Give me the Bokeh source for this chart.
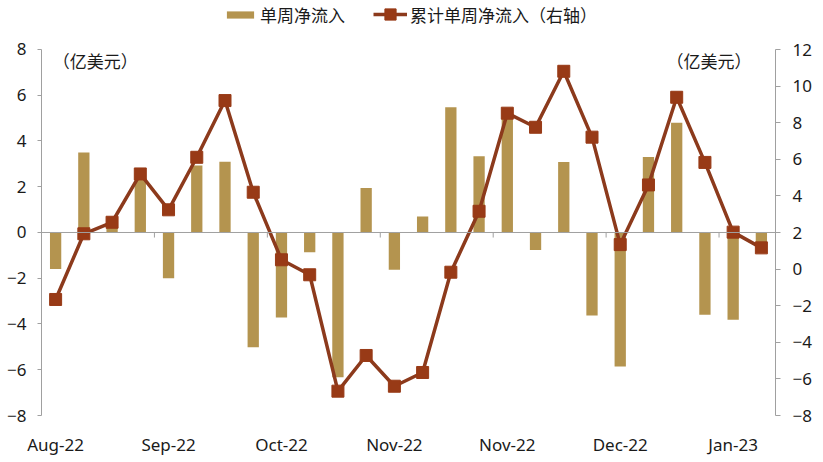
from bokeh.plotting import figure
from bokeh.models import (Range1d, LinearAxis, FixedTicker, Legend, LegendItem,
                          Label, Span)
from bokeh.embed import file_html
from bokeh.resources import INLINE

# ---- data ----
weekly_flow = [-1.6, 3.5, 0.65, 2.6, -2.0, 2.93, 3.09, -5.02, -3.72, -0.86,
               -6.33, 1.94, -1.63, 0.7, 5.48, 3.33, 5.36, -0.76, 3.08, -3.63,
               -5.86, 3.3, 4.8, -3.6, -3.81, -0.86]
cumulative_flow = [-1.66, 1.93, 2.56, 5.2, 3.24, 6.11, 9.21, 4.2, 0.51, -0.31,
                   -6.67, -4.72, -6.4, -5.65, -0.17, 3.16, 8.52, 7.75, 10.81,
                   7.21, 1.34, 4.6, 9.39, 5.83, 2.02, 1.16]
month_labels = ["Aug-22", "Sep-22", "Oct-22", "Nov-22", "Nov-22", "Dec-22", "Jan-23"]
left_ticks = [-8, -6, -4, -2, 0, 2, 4, 6, 8]
right_ticks = [-8, -6, -4, -2, 0, 2, 4, 6, 8, 10, 12]
unit_label = "（亿美元）"
bar_name = "单周净流入"
line_name = "累计单周净流入（右轴）"

n = len(weekly_flow)
xs = list(range(n))
label_every = 4
label_pos = list(range(0, n, label_every))
boundaries = [p - 0.5 for p in label_pos[1:]]

BAR = "#B4944F"
LINE = "#8C3A1C"
MARK = "#983A16"
AX = "#A0A0A0"
TXT = "#1a1a1a"
NUM_FONT = "Noto Sans"
CJK_FONT = "Noto Sans CJK SC"
FS = "17px"

p = figure(width=823, height=462, output_backend="svg", toolbar_location=None,
           x_range=Range1d(-0.5, n - 0.5), y_range=Range1d(-8, 10.142),
           min_border_left=41, min_border_right=48, min_border_top=0,
           min_border_bottom=47)
p.extra_y_ranges = {"right": Range1d(-8, 14.678)}
p.outline_line_color = None
p.grid.visible = False
p.background_fill_color = "white"
p.border_fill_color = "white"

# zero baseline with month separators
p.add_layout(Span(location=0, dimension="width", line_color=AX, line_width=1))
p.segment(x0=boundaries, x1=boundaries, y0=[0] * len(boundaries),
          y1=[-0.22] * len(boundaries), line_color=AX, line_width=1)

bars = p.vbar(x=xs, top=weekly_flow, bottom=0, width=0.4, fill_color=BAR,
              line_color=None)
ln = p.line(xs, cumulative_flow, y_range_name="right", line_color=LINE, line_width=3.5)
mk = p.scatter(xs, cumulative_flow, y_range_name="right", marker="square", size=12,
               fill_color=MARK, line_color=MARK)

# bottom axis: labels only
xa = p.xaxis[0]
xa.ticker = FixedTicker(ticks=label_pos)
xa.major_label_overrides = {pos: lab for pos, lab in zip(label_pos, month_labels)}
xa.axis_line_color = None
xa.major_tick_line_color = None
xa.minor_tick_line_color = None
xa.major_label_standoff = 11
xa.major_label_text_font = NUM_FONT
xa.major_label_text_font_size = FS
xa.major_label_text_color = TXT

ya = p.yaxis[0]
ya.ticker = FixedTicker(ticks=left_ticks)
ya.bounds = (-8, 8)
ya.axis_line_color = AX
ya.major_tick_line_color = AX
ya.major_tick_out = 4
ya.major_tick_in = 0
ya.minor_tick_line_color = None
ya.major_label_standoff = 11
ya.major_label_text_font = NUM_FONT
ya.major_label_text_font_size = FS
ya.major_label_text_color = TXT

ra = LinearAxis(y_range_name="right", ticker=FixedTicker(ticks=right_ticks),
                bounds=(-8, 12))
ra.axis_line_color = AX
ra.major_tick_line_color = AX
ra.major_tick_out = 5
ra.major_tick_in = 0
ra.minor_tick_line_color = None
ra.major_label_standoff = 12
ra.major_label_text_font = NUM_FONT
ra.major_label_text_font_size = FS
ra.major_label_text_color = TXT
p.add_layout(ra, "right")

# unit labels
p.add_layout(Label(x=-0.1, y=7.52, text=unit_label, text_font=CJK_FONT,
                   text_font_size=FS, text_baseline="middle", text_color=TXT))
p.add_layout(Label(x=21.64, y=7.52, text=unit_label, text_font=CJK_FONT,
                   text_font_size=FS, text_baseline="middle", text_color=TXT))

common = dict(orientation="horizontal", glyph_width=34, label_standoff=3,
              padding=0, margin=0, border_line_color=None,
              background_fill_alpha=0, label_text_font=CJK_FONT,
              label_text_font_size=FS, label_text_color=TXT, label_height=28)
legend_bar = Legend(items=[LegendItem(label=bar_name, renderers=[bars])],
                    location=(182, 387), glyph_height=9, **common)
legend_line = Legend(items=[LegendItem(label=line_name, renderers=[ln, mk])],
                     location=(332, 387), glyph_height=28, **common)
p.add_layout(legend_bar)
p.add_layout(legend_line)

open("out.html", "w").write(file_html(p, INLINE))
